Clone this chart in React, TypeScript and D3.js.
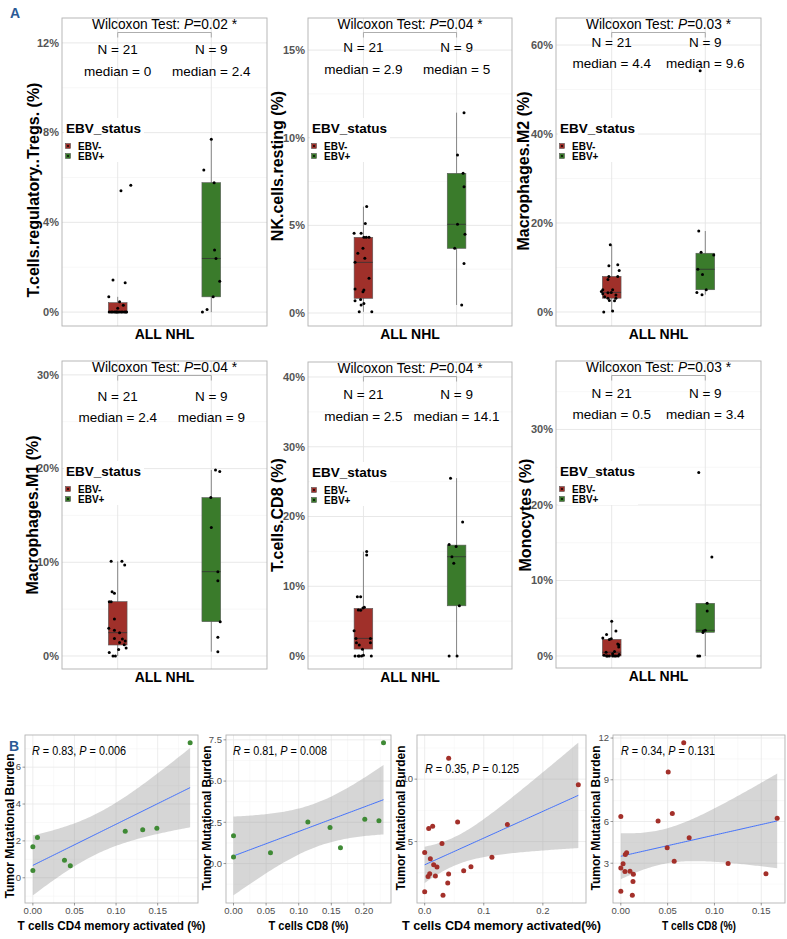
import React from 'react';
import * as d3 from 'd3';

const FONT = '"Liberation Sans", Arial, Helvetica, sans-serif';

// ---------- Panel A: immune cell fractions by EBV status ----------
const groups = ['EBV-', 'EBV+'];
const groupN = [21, 9];
const cellTypes = [
  'T.cells.regulatory..Tregs.',
  'NK.cells.resting',
  'Macrophages.M2',
  'Macrophages.M1',
  'T.cells.CD8',
  'Monocytes',
];
const wilcoxonP = ['0.02', '0.04', '0.03', '0.04', '0.04', '0.03'];
const medianNeg = ['0', '2.9', '4.4', '2.4', '2.5', '0.5'];
const medianPos = ['2.4', '5', '9.6', '9', '14.1', '3.4'];
const yTicksA = [
  [0, 4, 8, 12],
  [0, 5, 10, 15],
  [0, 20, 40, 60],
  [0, 10, 20, 30],
  [0, 10, 20, 30, 40],
  [0, 10, 20, 30],
];
const yLimitsA = [
  [-0.62, 13.11],
  [-0.74, 16.83],
  [-3.15, 66.07],
  [-1.39, 31.48],
  [-1.86, 42.15],
  [-1.59, 39.07],
];
// [lower whisker, q1, median, q3, upper whisker]
const boxNeg = [
  [0, 0, 0, 0.42, 0.68],
  [0.07, 0.84, 2.89, 4.32, 6.07],
  [0, 3.1, 4.4, 8.0, 15.1],
  [0, 1.17, 2.49, 5.8, 10.1],
  [0, 1.0, 2.53, 6.83, 14.96],
  [0, 0, 0.5, 2.21, 4.6],
];
const boxPos = [
  [0, 0.68, 2.39, 5.77, 7.7],
  [0.46, 3.69, 5.06, 7.97, 11.43],
  [3.9, 5.0, 9.6, 13.2, 18.2],
  [0.46, 3.66, 9.0, 16.9, 19.85],
  [0, 7.2, 14.24, 15.9, 25.5],
  [0, 3.14, 3.4, 6.98, 6.98],
];

// jittered points: [value %, jitter in box half-widths]
const tregsNeg = [[5.41, 0.35], [5.65, 1.4], [1.43, -0.5], [1.31, 0.8], [0.68, -0.95], [0.46, 0.2], [0.31, 0.6], [0.17, 0], [0, -0.7], [0, -0.35], [0, 0], [0, 0.35], [0, 0.7], [0, 0.95], [0, -0.9], [0, -0.55], [0, -0.2], [0, 0.15], [0, 0.5], [0, 0.85], [0, -0.1]];
const tregsPos = [[7.7, 0], [6.33, -0.8], [5.77, 0.3], [2.77, 0.35], [2.39, 0.5], [1.38, 0.9], [0.68, 0.2], [0.12, -0.45], [0, -0.95]];
const nkNeg = [[6.07, 0.35], [5.11, 0.2], [4.55, -1.0], [4.55, -0.25], [4.32, 0.05], [4.32, 0.3], [4.32, 0.6], [3.69, -0.05], [3.41, -0.6], [3.12, 0.15], [2.89, -0.9], [1.98, 0.6], [1.37, -0.9], [1.31, 0.05], [1.22, -0.05], [0.77, -0.3], [0.7, -0.9], [0.55, 0.05], [0.46, -0.25], [0.07, -0.45], [0.07, 0.9]];
const nkPos = [[11.43, 0.8], [9.01, 0.1], [7.97, 0.7], [7.21, 0.8], [5.06, 0.1], [4.49, 0.9], [3.69, -0.2], [2.83, 0.8], [0.46, 0.55]];
const m2Neg = [[15.1, -0.15], [10.4, -0.3], [10.6, 0.65], [9.3, 0.8], [8.0, -0.3], [8.0, 0.65], [7.3, -0.4], [5.0, -0.95], [5.0, 0.1], [4.3, -0.4], [4.1, -0.95], [4.4, -0.05], [3.8, 0.45], [3.4, -0.75], [2.6, -0.25], [2.5, 0.3], [3.1, 0.45], [3.1, -0.4], [0, -0.85], [0.2, 0.1], [4.6, -1.1]];
const m2Pos = [[54.2, -0.55], [18.2, -0.7], [13.4, -0.45], [12.8, 0.9], [9.6, -0.8], [8.4, -0.3], [5.0, 0.1], [4.4, -0.9], [3.9, -0.35]];
const m1Neg = [[10.1, -0.7], [10.1, 0.45], [9.7, 0.75], [6.86, -0.6], [6.7, -0.35], [5.8, -0.9], [5.8, -0.7], [3.95, -0.35], [2.95, -0.95], [2.74, -0.35], [2.49, 0.2], [1.8, 0.5], [1.87, -0.35], [1.6, 0.8], [1.45, 0.2], [0.85, 0.9], [0.7, 0.1], [0.36, -0.9], [0, -0.5], [0, -0.25], [1.2, 0.7]];
const m1Pos = [[19.85, 0.45], [19.7, 0.9], [16.9, -0.05], [13.7, 0], [9.0, 0.7], [8.04, 0.7], [3.66, 0.95], [2.0, 0.7], [0.46, 0.7]];
const cd8Neg = [[15.0, 0.35], [14.48, 0.35], [8.5, -0.65], [8.5, -0.3], [6.6, -0.55], [6.55, -0.3], [6.9, -0.05], [7.0, 0.1], [3.63, -1.0], [2.53, -0.8], [2.53, 0.75], [1.9, 0.75], [1.9, -0.75], [1.58, -0.45], [0.96, -0.1], [0, -0.9], [0, -0.45], [0, -0.2], [0.1, 0], [0, 0.85], [0, -0.55]];
const cd8Pos = [[25.5, -0.65], [19.2, 0.65], [16.0, -0.8], [15.7, -0.05], [14.24, -0.5], [13.3, -0.3], [7.2, 0.3], [0, -0.8], [0, 0.05]];
const monoNeg = [[4.6, 0], [2.84, -0.55], [3.3, 0.45], [2.38, -0.95], [2.2, -0.25], [1.5, 0.75], [1.2, 0.75], [0.6, 0.3], [0.1, -0.8], [0, -0.55], [0, -0.25], [0, 0.1], [0, 0.45], [0.2, 0.8], [0, -0.45], [0.3, 0.1], [0, 0.7], [1.6, 0.65], [0.5, -0.6], [2.3, -0.05], [0, 0.3]];
const monoPos = [[24.3, -0.7], [13.1, 0.7], [7.0, 0.2], [5.96, 0.2], [3.4, 0], [3.3, -0.2], [3.1, -0.25], [0, -0.8], [0, -0.6]];

const pointsNeg = [tregsNeg, nkNeg, m2Neg, m1Neg, cd8Neg, monoNeg];
const pointsPos = [tregsPos, nkPos, m2Pos, m1Pos, cd8Pos, monoPos];

// ---------- Panel B: TMB vs cell fractions ----------
const tmbEbvPos = [0.4, 0.65, 0.95, 1.68, 2.19, 2.52, 2.6, 2.68, 7.33];
const cd4ActEbvPos = [0, 0.045, 0.038, 0, 0.0055, 0.111, 0.132, 0.149, 0.189];
const cd8EbvPos = [0, 0.0567, 0.164, 0, 0.148, 0.114, 0.223, 0.2013, 0.23];
const tmbEbvNeg = [0.69, 0.98, 1.68, 2.2, 2.25, 2.4, 2.42, 2.66, 2.97, 2.98, 3.15, 3.62, 3.75, 4.12, 4.84, 6.04, 6.23, 6.36, 6.57, 9.56, 11.67];
const cd4ActEbvNeg = [0.031, 0, 0.039, 0.0057, 0.0181, 0.0405, 0.0085, 0.066, 0.0208, 0.0783, 0.0152, 0.0096, 0.1138, 0, 0.0293, 0.0068, 0.0135, 0.14, 0.0557, 0.26, 0.0406];
const cd8EbvNeg = [0.0123, 0, 0.013, 0.0134, 0.155, 0.0044, 0.0098, 0, 0.0024, 0.1146, 0.057, 0.0048, 0.0062, 0.0495, 0.073, 0.0398, 0.167, 0, 0.055, 0.0506, 0.0672];

const scatterX = [cd4ActEbvPos, cd8EbvPos, cd4ActEbvNeg, cd8EbvNeg];
const scatterY = [tmbEbvPos, tmbEbvPos, tmbEbvNeg, tmbEbvNeg];
const scatterGroup = [1, 1, 0, 0];
const xTitlesB = ['T cells CD4 memory activated (%)', 'T cells CD8 (%)', 'T cells CD4 memory activated(%)', 'T cells CD8 (%)'];
const corR = ['0.83', '0.81', '0.35', '0.34'];
const corP = ['0.006', '0.008', '0.125', '0.131'];
const xTicksB = [[0, 0.05, 0.1, 0.15], [0, 0.05, 0.1, 0.15, 0.2], [0, 0.1, 0.2], [0, 0.05, 0.1, 0.15]];
const yTicksB = [[0, 2, 4, 6], [0, 2.5, 5, 7.5], [5, 10], [3, 6, 9, 12]];
const xFmtB = ['.2f', '.2f', '.1f', '.2f'];
const yFmtB = ['d', '.1f', 'd', 'd'];
const tQuantile975: Record<number, number> = { 7: 2.365, 19: 2.093 };

// ---------- styling / layout ----------
const boxFill = ['#A0302A', '#3A7B2B'];
const dotFill = ['#A3302A', '#3F8A35'];
const rectsA = [
  { l: 62, t: 18, r: 267, b: 326 },
  { l: 308, t: 18, r: 512, b: 326 },
  { l: 556, t: 18, r: 761, b: 326 },
  { l: 62, t: 361, r: 267, b: 669 },
  { l: 308, t: 362, r: 512, b: 669 },
  { l: 556, t: 361, r: 761, b: 668 },
];
const nLabelDy = [36, 34, 29, 40, 37, 37];
const medianLabelDy = [58, 56, 50, 61, 59, 58];
const yTitlePosA = [[33, 190], [277, 166], [523, 171], [32, 515], [277, 515], [525, 515]];
const rectsB = [
  { l: 25, t: 735, r: 198, b: 903 },
  { l: 226, t: 735, r: 391, b: 903 },
  { l: 417, t: 735, r: 586, b: 903 },
  { l: 613, t: 735, r: 785, b: 903 },
];
const yTitlePosB = [[10, 826], [207, 818], [401, 818], [596, 818]];
const corLabelPos = [[32, 755], [233, 755], [425, 773], [621, 755]];
const xTitleLenB = [188, 80, 199, 74];

function minorBreaks(ticks: number[], lim: number[]) {
  const st = ticks.length > 1 ? ticks[1] - ticks[0] : 1;
  return d3.range(ticks[0] - st / 2, ticks[ticks.length - 1] + st, st).filter(v => v > lim[0] && v < lim[1]);
}

function BoxPanel({ k }: { k: number }) {
  const { l, t, r, b } = rectsA[k];
  const lim = yLimitsA[k];
  const y = d3.scaleLinear().domain(lim).range([b, t]);
  const x = d3.scalePoint<string>().domain(groups).range([l, r]).padding(0.595);
  const half = x.step() * 0.1;
  const ticks = yTicksA[k];
  const minor = minorBreaks(ticks, lim);
  const xs = groups.map(g => x(g) as number);
  const mid = (xs[0] + xs[1]) / 2;
  const stats = [boxNeg[k], boxPos[k]];
  const pts = [pointsNeg[k], pointsPos[k]];
  const brY = t + 14.5;
  const medians = [medianNeg[k], medianPos[k]];
  return (
    <g>
      {minor.map(v => <line key={'mi' + v} x1={l} x2={r} y1={y(v)} y2={y(v)} stroke="#F2F2F2" strokeWidth={0.6} />)}
      {ticks.map(v => <line key={'ma' + v} x1={l} x2={r} y1={y(v)} y2={y(v)} stroke="#E5E5E5" strokeWidth={0.9} />)}
      {xs.map((xv, i) => <line key={'gx' + i} x1={xv} x2={xv} y1={t} y2={b} stroke="#E5E5E5" strokeWidth={0.9} />)}

      {/* legend inside the panel */}
      <rect x={l + 2} y={t + 100} width={80} height={44} fill="#fff" />
      <text x={l + 4} y={t + 115} fontSize={13.5} fontWeight="bold">EBV_status</text>
      {groups.map((g, i) => (
        <g key={'lg' + g}>
          <rect x={l + 3.5} y={t + 125.5 + 10 * i} width={5} height={5} fill={boxFill[i]} stroke="#444" strokeWidth={0.5} />
          <circle cx={l + 6} cy={t + 128 + 10 * i} r={0.9} fill="#000" />
          <text x={l + 16} y={t + 128 + 10 * i} dy="0.35em" fontSize={10} fontWeight="bold">{g}</text>
        </g>
      ))}

      {stats.map((s, i) => (
        <g key={'box' + i}>
          <line x1={xs[i]} x2={xs[i]} y1={y(s[0])} y2={y(s[4])} stroke="#5A5A5A" strokeWidth={0.7} />
          <rect x={xs[i] - half} y={y(s[3])} width={2 * half} height={y(s[1]) - y(s[3])} fill={boxFill[i]} stroke="#5A5A5A" strokeWidth={0.6} />
          <line x1={xs[i] - half} x2={xs[i] + half} y1={y(s[2])} y2={y(s[2])} stroke="#333" strokeWidth={0.8} />
        </g>
      ))}
      {pts.map((arr, i) => arr.map(([v, j], m) => (
        <circle key={'p' + i + '-' + m} cx={xs[i] + j * half} cy={y(v)} r={1.5} fill="#000" />
      )))}
      <rect x={l} y={t} width={r - l} height={b - t} fill="none" stroke="#B0B0B0" strokeWidth={0.9} />

      {ticks.map(v => (
        <text key={'tl' + v} x={l - 3} y={y(v)} dy="0.35em" textAnchor="end" fontSize={11} fontWeight="bold" fill="#555">{v}%</text>
      ))}
      <text transform={`translate(${yTitlePosA[k][0]},${yTitlePosA[k][1]}) rotate(-90)`} textAnchor="middle" dy="0.35em" fontSize={16} fontWeight="bold">
        {cellTypes[k]} (%)
      </text>
      <text x={(l + r) / 2} y={b + 13} textAnchor="middle" fontSize={14} fontWeight="bold">ALL NHL</text>

      <path d={`M${xs[0]},${brY + 5}V${brY}H${xs[1]}V${brY + 5}`} fill="none" stroke="#999" strokeWidth={0.8} />
      <text x={mid} y={t + 10.5} textAnchor="middle" fontSize={14} textLength={145} lengthAdjust="spacingAndGlyphs">
        Wilcoxon Test: <tspan fontStyle="italic">P</tspan>={wilcoxonP[k]} *
      </text>
      {xs.map((xv, i) => (
        <g key={'lab' + i}>
          <text x={xv} y={t + nLabelDy[k]} textAnchor="middle" fontSize={13.5}>N = {groupN[i]}</text>
          <text x={xv} y={t + medianLabelDy[k]} textAnchor="middle" fontSize={13.5}>median = {medians[i]}</text>
        </g>
      ))}
    </g>
  );
}

function ScatterPanel({ k }: { k: number }) {
  const xd = scatterX[k];
  const yd = scatterY[k];
  const { l, t, r, b } = rectsB[k];
  const n = xd.length;
  const mx = d3.mean(xd) as number;
  const my = d3.mean(yd) as number;
  const sxx = d3.sum(xd, v => (v - mx) ** 2);
  const sxy = d3.sum(xd, (v, i) => (v - mx) * (yd[i] - my));
  const slope = sxy / sxx;
  const icpt = my - slope * mx;
  const sRes = Math.sqrt(d3.sum(xd, (v, i) => (yd[i] - icpt - slope * v) ** 2) / (n - 2));
  const tq = tQuantile975[n - 2] ?? 2.1;
  const [x0, x1] = d3.extent(xd) as [number, number];
  const band = d3.range(0, 81).map(i => {
    const xv = x0 + ((x1 - x0) * i) / 80;
    const fit = icpt + slope * xv;
    const se = sRes * Math.sqrt(1 / n + (xv - mx) ** 2 / sxx);
    return { x: xv, fit, lo: fit - tq * se, hi: fit + tq * se };
  });
  const yMin = Math.min(d3.min(yd) as number, d3.min(band, d => d.lo) as number);
  const yMax = Math.max(d3.max(yd) as number, d3.max(band, d => d.hi) as number);
  const px = (x1 - x0) * 0.05;
  const py = (yMax - yMin) * 0.05;
  const x = d3.scaleLinear().domain([x0 - px, x1 + px]).range([l, r]);
  const y = d3.scaleLinear().domain([yMin - py, yMax + py]).range([b, t]);
  const xt = xTicksB[k];
  const yt = yTicksB[k];
  const xMinor = minorBreaks(xt, x.domain());
  const yMinor = minorBreaks(yt, y.domain());
  const area = d3.area<typeof band[0]>().x(d => x(d.x)).y0(d => y(d.lo)).y1(d => y(d.hi));
  const line = d3.line<typeof band[0]>().x(d => x(d.x)).y(d => y(d.fit));
  const fx = d3.format(xFmtB[k]);
  const fy = d3.format(yFmtB[k]);
  const col = dotFill[scatterGroup[k]];
  return (
    <g>
      {xMinor.map(v => <line key={'xm' + v} x1={x(v)} x2={x(v)} y1={t} y2={b} stroke="#F3F3F3" strokeWidth={0.5} />)}
      {yMinor.map(v => <line key={'ym' + v} x1={l} x2={r} y1={y(v)} y2={y(v)} stroke="#F3F3F3" strokeWidth={0.5} />)}
      {xt.map(v => <line key={'xg' + v} x1={x(v)} x2={x(v)} y1={t} y2={b} stroke="#E8E8E8" strokeWidth={0.8} />)}
      {yt.map(v => <line key={'yg' + v} x1={l} x2={r} y1={y(v)} y2={y(v)} stroke="#E8E8E8" strokeWidth={0.8} />)}
      <path d={area(band) as string} fill="#999" fillOpacity={0.4} />
      <path d={line(band) as string} fill="none" stroke="#3366FF" strokeWidth={0.9} />
      {xd.map((v, i) => <circle key={'pt' + i} cx={x(v)} cy={y(yd[i])} r={2.5} fill={col} />)}
      <rect x={l} y={t} width={r - l} height={b - t} fill="none" stroke="#B3B3B3" strokeWidth={0.9} />
      {xt.map(v => (
        <g key={'xl' + v}>
          <line x1={x(v)} x2={x(v)} y1={b} y2={b + 2.5} stroke="#555" strokeWidth={0.6} />
          <text x={x(v)} y={b + 11} textAnchor="middle" fontSize={9.5} fill="#4D4D4D">{fx(v)}</text>
        </g>
      ))}
      {yt.map(v => (
        <g key={'yl' + v}>
          <line x1={l - 2.5} x2={l} y1={y(v)} y2={y(v)} stroke="#555" strokeWidth={0.6} />
          <text x={l - 4} y={y(v)} dy="0.35em" textAnchor="end" fontSize={9.5} fill="#4D4D4D">{fy(v)}</text>
        </g>
      ))}
      <text x={(l + r) / 2} y={930} textAnchor="middle" fontSize={12} fontWeight="bold" textLength={xTitleLenB[k]} lengthAdjust="spacingAndGlyphs">
        {xTitlesB[k]}
      </text>
      <text transform={`translate(${yTitlePosB[k][0]},${yTitlePosB[k][1]}) rotate(-90)`} textAnchor="middle" dy="0.35em" fontSize={12} fontWeight="bold">
        Tumor Mutational Burden
      </text>
      <text x={corLabelPos[k][0]} y={corLabelPos[k][1]} fontSize={12} textLength={94} lengthAdjust="spacingAndGlyphs">
        <tspan fontStyle="italic">R</tspan> = {corR[k]}, <tspan fontStyle="italic">P</tspan> = {corP[k]}
      </text>
    </g>
  );
}

export default function App() {
  return (
    <svg
      width={787}
      height={939}
      style={{ position: 'absolute', left: 0, top: 0, background: '#fff', fontFamily: FONT }}
    >
      <rect width={787} height={939} fill="#fff" />
      {rectsA.map((_, k) => <BoxPanel key={'a' + k} k={k} />)}
      {rectsB.map((_, k) => <ScatterPanel key={'b' + k} k={k} />)}
      <text x={10} y={18} fontSize={14} fontWeight="bold" fill="#2B5A96">A</text>
      <text x={9} y={751} fontSize={14} fontWeight="bold" fill="#2B5A96">B</text>
    </svg>
  );
}
